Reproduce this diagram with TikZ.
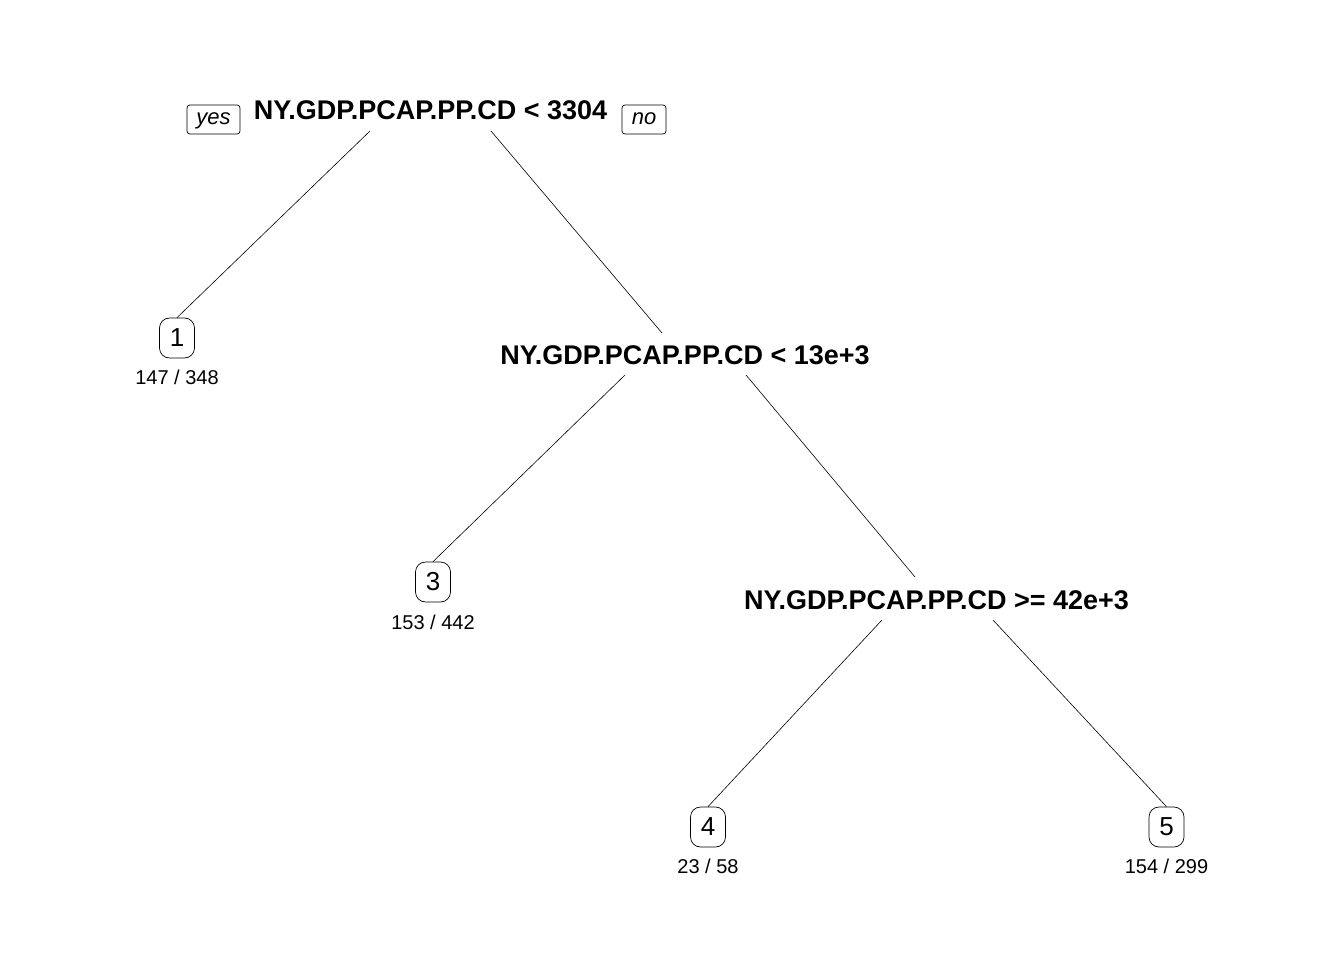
\documentclass[tikz,border=0pt]{standalone}
\usepackage{fontspec}
\setmainfont{Liberation Sans}
\begin{document}
\begin{tikzpicture}[x=1pt,y=-1pt,
  split/.style={font=\fontsize{27}{31}\selectfont\bfseries, inner sep=0pt, anchor=base},
  leafbox/.style={draw, rounded corners=10pt, minimum width=35pt, minimum height=40pt, inner sep=0pt, font=\fontsize{26}{30}\selectfont, line width=0.7pt},
  count/.style={font=\fontsize{20}{24}\selectfont, inner sep=0pt, anchor=base},
  yn/.style={draw, rounded corners=3pt, inner sep=0pt, font=\fontsize{22}{26}\selectfont\itshape, text height=11pt, text depth=0pt, minimum height=29pt, line width=0.7pt},
  edge/.style={line width=0.6pt}]
\useasboundingbox (0,0) rectangle (1344,960);

% split nodes
\node[split] (s1) at (430.5,120) {NY.GDP.PCAP.PP.CD < 3304};
\node[split] (s2) at (685,364) {NY.GDP.PCAP.PP.CD < 13e+3};
\node[split] (s3) at (936.5,609) {NY.GDP.PCAP.PP.CD >= 42e+3};

% yes / no
\node[yn, minimum width=53pt] (yes) at (213.5,119.5) {yes};
\node[yn, minimum width=44pt] (no) at (644,119.5) {no};

% leaves
\node[leafbox] (l1) at (177,338) {1};
\node[leafbox] (l3) at (433,582) {3};
\node[leafbox] (l4) at (708,827) {4};
\node[leafbox] (l5) at (1166.5,827) {5};

\node[count] (c1) at (177,384) {147 / 348};
\node[count] (c3) at (433,629) {153 / 442};
\node[count] (c4) at (708,873) {23 / 58};
\node[count] (c5) at (1166.5,873) {154 / 299};

% connector start points
\coordinate (s1l) at (370,131);
\coordinate (s1r) at (491,131);
\coordinate (s2l) at (625,375);
\coordinate (s2r) at (746,375);
\coordinate (s3l) at (882,620);
\coordinate (s3r) at (993,620);
\coordinate (s2t) at (662,333);
\coordinate (s3t) at (915,577);

\draw[edge] (s1l) -- (l1.north);
\draw[edge] (s1r) -- (s2t);
\draw[edge] (s2l) -- (l3.north);
\draw[edge] (s2r) -- (s3t);
\draw[edge] (s3l) -- (l4.north);
\draw[edge] (s3r) -- (l5.north);
\end{tikzpicture}
\end{document}
